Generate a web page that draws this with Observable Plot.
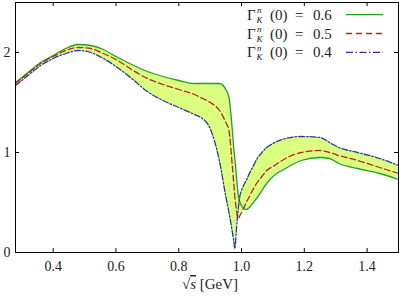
<!DOCTYPE html>
<html>
<head>
<meta charset="utf-8">
<script src="https://cdn.jsdelivr.net/npm/d3@7"></script>
<script src="https://cdn.jsdelivr.net/npm/@observablehq/plot@0.6"></script>
<style>
  html, body { margin: 0; padding: 0; background: white; }
  #chart { position: relative; width: 399px; height: 297px; }
</style>
</head>
<body>
<div id="chart"></div>
<script>
// sqrt(s) in GeV, shared grid for the three curves
const xs = [0.28, 0.32, 0.36, 0.40, 0.44, 0.48, 0.52, 0.56, 0.60, 0.65, 0.70, 0.75, 0.80, 0.85, 0.87, 0.90, 0.93, 0.95, 0.96, 0.97, 0.975, 0.979, 0.983, 0.986, 0.99, 0.995, 1.0, 1.008, 1.015, 1.025, 1.035, 1.05, 1.065, 1.08, 1.10, 1.14, 1.19, 1.25, 1.28, 1.31, 1.37, 1.44, 1.5];
// Γ_K^n(0) = 0.6
const green = [1.70, 1.80, 1.90, 1.97, 2.04, 2.08, 2.07, 2.03, 1.96, 1.88, 1.81, 1.76, 1.72, 1.69, 1.69, 1.69, 1.69, 1.63, 1.55, 1.25, 1.05, 0.93, 0.79, 0.68, 0.56, 0.50, 0.47, 0.44, 0.43, 0.45, 0.49, 0.55, 0.62, 0.69, 0.76, 0.84, 0.92, 0.95, 0.94, 0.89, 0.84, 0.79, 0.73];
// Γ_K^n(0) = 0.5
const red = [1.69, 1.79, 1.89, 1.96, 2.02, 2.05, 2.04, 1.99, 1.93, 1.83, 1.74, 1.68, 1.63, 1.58, 1.55, 1.50, 1.42, 1.30, 1.22, 0.89, 0.70, 0.55, 0.44, 0.37, 0.34, 0.37, 0.40, 0.45, 0.50, 0.56, 0.62, 0.70, 0.76, 0.82, 0.86, 0.94, 1.00, 1.02, 1.00, 0.97, 0.92, 0.85, 0.79];
// Γ_K^n(0) = 0.4
const blue = [1.67, 1.77, 1.87, 1.94, 1.99, 2.02, 2.00, 1.94, 1.86, 1.74, 1.61, 1.52, 1.45, 1.38, 1.35, 1.24, 0.91, 0.56, 0.40, 0.22, 0.12, 0.04, 0.20, 0.32, 0.45, 0.57, 0.62, 0.68, 0.72, 0.79, 0.85, 0.94, 1.00, 1.05, 1.09, 1.14, 1.16, 1.15, 1.10, 1.05, 1.00, 0.94, 0.87];

const seriesLabels = ["0.6", "0.5", "0.4"];
const xTicks = [0.4, 0.6, 0.8, 1.0, 1.2, 1.4];
const xTickLabels = ["0.4", "0.6", "0.8", "1.0", "1.2", "1.4"];
const yTicks = [0, 1, 2];
const yTickLabels = ["0", "1", "2"];

const rows = xs.map((x, i) => ({
  x, g: green[i], r: red[i], b: blue[i],
  lo: Math.min(green[i], red[i], blue[i]),
  hi: Math.max(green[i], red[i], blue[i])
}));

const W = 399, H = 297, mL = 15, mR = 1, mT = 2, mB = 45;
const frameW = W - mL - mR, frameH = H - mT - mB;
const cGreen = "#22a022", cRed = "#b82424", cBlue = "#2a36a8", cFill = "#dbff7f";
const font = "Liberation Serif, DejaVu Serif, serif";

const plot = Plot.plot({
  width: W, height: H,
  marginLeft: mL, marginRight: mR, marginTop: mT, marginBottom: mB,
  style: { fontFamily: font, fontSize: "14px", background: "white", color: "#222" },
  x: { domain: [0.28, 1.5], label: null },
  y: { domain: [0, 2.5], label: null },
  marks: [
    Plot.areaY(rows, { x: "x", y1: "lo", y2: "hi", fill: cFill, curve: "monotone-x" }),
    Plot.line(rows, { x: "x", y: "g", stroke: cGreen, strokeWidth: 1.3, curve: "monotone-x" }),
    Plot.line(rows, { x: "x", y: "r", stroke: cRed, strokeWidth: 1.3, strokeDasharray: "6,3", curve: "monotone-x" }),
    Plot.line(rows, { x: "x", y: "b", stroke: cBlue, strokeWidth: 1.3, strokeDasharray: "6,2,1.5,2", curve: "monotone-x" }),
    Plot.tickX(xTicks, { x: d => d, insetTop: frameH - 4, stroke: "black" }),
    Plot.tickX(xTicks, { x: d => d, insetBottom: frameH - 4, stroke: "black" }),
    Plot.tickY(yTicks, { y: d => d, insetRight: frameW - 4, stroke: "black" }),
    Plot.tickY(yTicks, { y: d => d, insetLeft: frameW - 4, stroke: "black" }),
    Plot.frame({ stroke: "black", strokeWidth: 1 }),
    Plot.axisX(xTicks, { tickSize: 0, tickPadding: 9, fontSize: 14, tickFormat: (d, i) => xTickLabels[i] }),
    Plot.axisY(yTicks, { tickSize: 0, tickPadding: 5, fontSize: 14, tickFormat: (d, i) => yTickLabels[i] })
  ]
});
document.getElementById("chart").appendChild(plot);

const svg = d3.select(plot);
// x-axis label: √s [GeV]
const xl = svg.append("text")
  .attr("x", 210).attr("y", 289)
  .attr("text-anchor", "middle")
  .style("font-family", font).attr("font-size", 15).attr("fill", "#222");
xl.append("tspan").text("√");
xl.append("tspan").attr("font-style", "italic").style("text-decoration", "overline").text("s");
xl.append("tspan").text(" [GeV]");

// legend
const colors = [cGreen, cRed, cBlue];
const dashes = [null, "6,4", "7,2.5,1.5,2.5"];
seriesLabels.forEach((lab, i) => {
  const yc = 14.7 + i * 18.8;
  const yb = yc + 5;
  const g = svg.append("g").style("font-family", font).attr("fill", "#222").attr("text-anchor", "start");
  g.append("text").attr("x", 247).attr("y", yb).attr("font-size", 15).text("Γ");
  g.append("text").attr("x", 256.5).attr("y", yb + 3).attr("font-size", 9).attr("font-style", "italic").text("K");
  g.append("text").attr("x", 257).attr("y", yb - 6.8).attr("font-size", 9).attr("font-style", "italic").text("n");
  g.append("text").attr("x", 270).attr("y", yb).attr("font-size", 15).text("(0)");
  g.append("text").attr("x", 295).attr("y", yb).attr("font-size", 15).text("=");
  g.append("text").attr("x", 313).attr("y", yb).attr("font-size", 15).text(lab);
  svg.append("line")
    .attr("x1", 346).attr("x2", 383).attr("y1", yc).attr("y2", yc)
    .attr("stroke", colors[i]).attr("stroke-width", 1.3)
    .attr("stroke-dasharray", dashes[i]);
});
</script>
</body>
</html>
